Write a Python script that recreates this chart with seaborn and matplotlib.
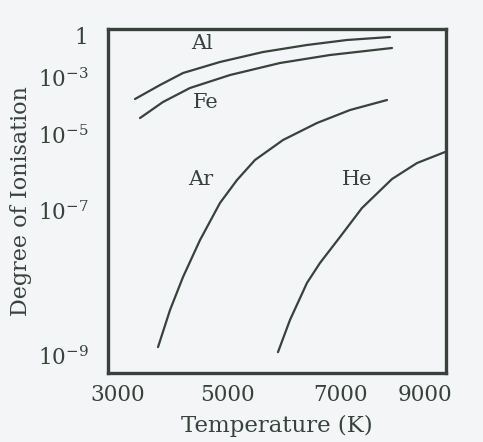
import numpy as np
import pandas as pd
import matplotlib
matplotlib.use("Agg")
import matplotlib.pyplot as plt
import seaborn as sns
from matplotlib.transforms import ScaledTranslation

# ---------------- data ----------------
temp_al = [3446, 3860, 4240, 4851, 5581, 6333, 7020, 7880]
ion_al = [1.83e-4, 5.68e-4, 2.15e-3, 1.17e-2, 0.054, 0.144, 0.264, 0.379]

temp_fe = [3529, 3909, 4355, 5017, 5872, 6726, 7920]
ion_fe = [3.94e-5, 1.44e-4, 4.46e-4, 1.58e-3, 1.0e-2, 3.41e-2, 0.1]

temp_ar = [3827, 4025, 4240, 4521, 4851, 5137, 5444, 5923, 6504, 7080, 7820]
ion_ar = [1.33e-9, 4.31e-9, 1.23e-8, 3.98e-8, 1.63e-7, 6.55e-7, 2.2e-6, 7.38e-6,
          2.64e-5, 7.53e-5, 1.69e-4]

temp_he = [5837, 6042, 6333, 6555, 6897, 7320, 7920, 8420, 8980]
ion_he = [1.13e-9, 3.14e-9, 1.02e-8, 1.92e-8, 4.38e-8, 1.2e-7, 6.95e-7, 1.83e-6, 3.57e-6]

elements = ["Al", "Fe", "Ar", "He"]
label_temp = [4554, 4620, 4537, 7220]
label_ion = [0.163, 1.33e-4, 6.6e-7, 6.6e-7]

x_ticks = [3000, 5000, 7000, 9000]
x_ticklabels = ["3000", "5000", "7000", "9000"]
y_ticks = [1, 1e-3, 1e-5, 1e-7, 1e-9]
y_ticklabels = ["1", "$10^{-3}$", "$10^{-5}$", "$10^{-7}$", "$10^{-9}$"]

# ---------------- hand-drawn (non-uniform) axis scales ----------------
X_T = [2000, 3000, 5000, 7000, 9000, 10000]
X_P = [-60.5, 0, 121, 238, 338, 388]
Y_LOG = [-10, -9, -7, -5, -3, -1, 0, 1]
Y_P = [-428.5, -356, -211, -135, -78, -48, -29, -10]


def x_fwd(t):
    return np.interp(np.asarray(t, float), X_T, X_P)


def x_inv(p):
    return np.interp(np.asarray(p, float), X_P, X_T)


def y_fwd(v):
    v = np.clip(np.asarray(v, float), 1e-300, None)
    return np.interp(np.log10(v), Y_LOG, Y_P)


def y_inv(p):
    return 10.0 ** np.interp(np.asarray(p, float), Y_P, Y_LOG)


# ---------------- styling ----------------
sns.set_style("white")
ink = "#38423b"
bg = "#f4f5f7"
plt.rcParams["font.family"] = ["DejaVu Serif"]
plt.rcParams["mathtext.fontset"] = "dejavuserif"
plt.rcParams["text.color"] = ink
plt.rcParams["xtick.color"] = ink
plt.rcParams["ytick.color"] = ink

df = pd.concat([
    pd.DataFrame({"T": temp_al, "ion": ion_al, "el": "Al"}),
    pd.DataFrame({"T": temp_fe, "ion": ion_fe, "el": "Fe"}),
    pd.DataFrame({"T": temp_ar, "ion": ion_ar, "el": "Ar"}),
    pd.DataFrame({"T": temp_he, "ion": ion_he, "el": "He"}),
], ignore_index=True)

fig = plt.figure(figsize=(4.83, 4.42), dpi=100, facecolor=bg)
ax = fig.add_axes([108 / 483, 1 - 373 / 442, 338 / 483, 344 / 442])
ax.set_facecolor(bg)

ax.set_xscale("function", functions=(x_fwd, x_inv))
ax.set_yscale("function", functions=(y_fwd, y_inv))

sns.lineplot(data=df, x="T", y="ion", hue="el", hue_order=elements,
             palette={e: ink for e in elements}, linewidth=1.6,
             legend=False, ax=ax, estimator=None)
for ln in ax.get_lines():
    ln.set_solid_joinstyle("round")
    ln.set_solid_capstyle("round")

ax.set_xlim(3000, 9000)
ax.set_ylim(10 ** -9.234, 1)

for name, t, v in zip(elements, label_temp, label_ion):
    ax.text(t, v, name, fontsize=15, ha="center", va="center", color=ink)

ax.set_xticks(x_ticks, x_ticklabels, fontsize=15.5)
ax.set_yticks(y_ticks, y_ticklabels, fontsize=15.5)
ax.yaxis.set_minor_locator(matplotlib.ticker.FixedLocator([0.1]))
ax.yaxis.set_minor_formatter(matplotlib.ticker.NullFormatter())
ax.tick_params(axis="x", which="major", direction="in", length=3, width=1.5, pad=8)
ax.tick_params(axis="y", which="major", direction="out", length=8, width=1.8, pad=6)
ax.tick_params(axis="y", which="minor", direction="in", length=11, width=1.8)
ax.tick_params(axis="x", which="minor", length=0)

yt = ax.yaxis.get_major_ticks()
yt[0].tick1line.set_visible(False)
yt[-1].tick1line.set_visible(False)

# shift some tick labels as in the printed figure
x_shift = [10, -2, -5, -21]
for lab, dx in zip(ax.get_xticklabels(), x_shift):
    lab.set_transform(lab.get_transform() + ScaledTranslation(dx / 100, 0, fig.dpi_scale_trans))
ylab0 = ax.get_yticklabels()[0]
ylab0.set_transform(ylab0.get_transform() + ScaledTranslation(0, -6 / 100, fig.dpi_scale_trans))

ax.set_xlabel("Temperature (K)", fontsize=16.5, labelpad=6, color=ink)
ax.set_ylabel("Degree of Ionisation", fontsize=16, labelpad=4, color=ink)
ax.grid(False)

for s in ax.spines.values():
    s.set_visible(True)
    s.set_color(ink)
    s.set_linewidth(2.4)

fig.savefig("out.png", dpi=100, facecolor=bg)
